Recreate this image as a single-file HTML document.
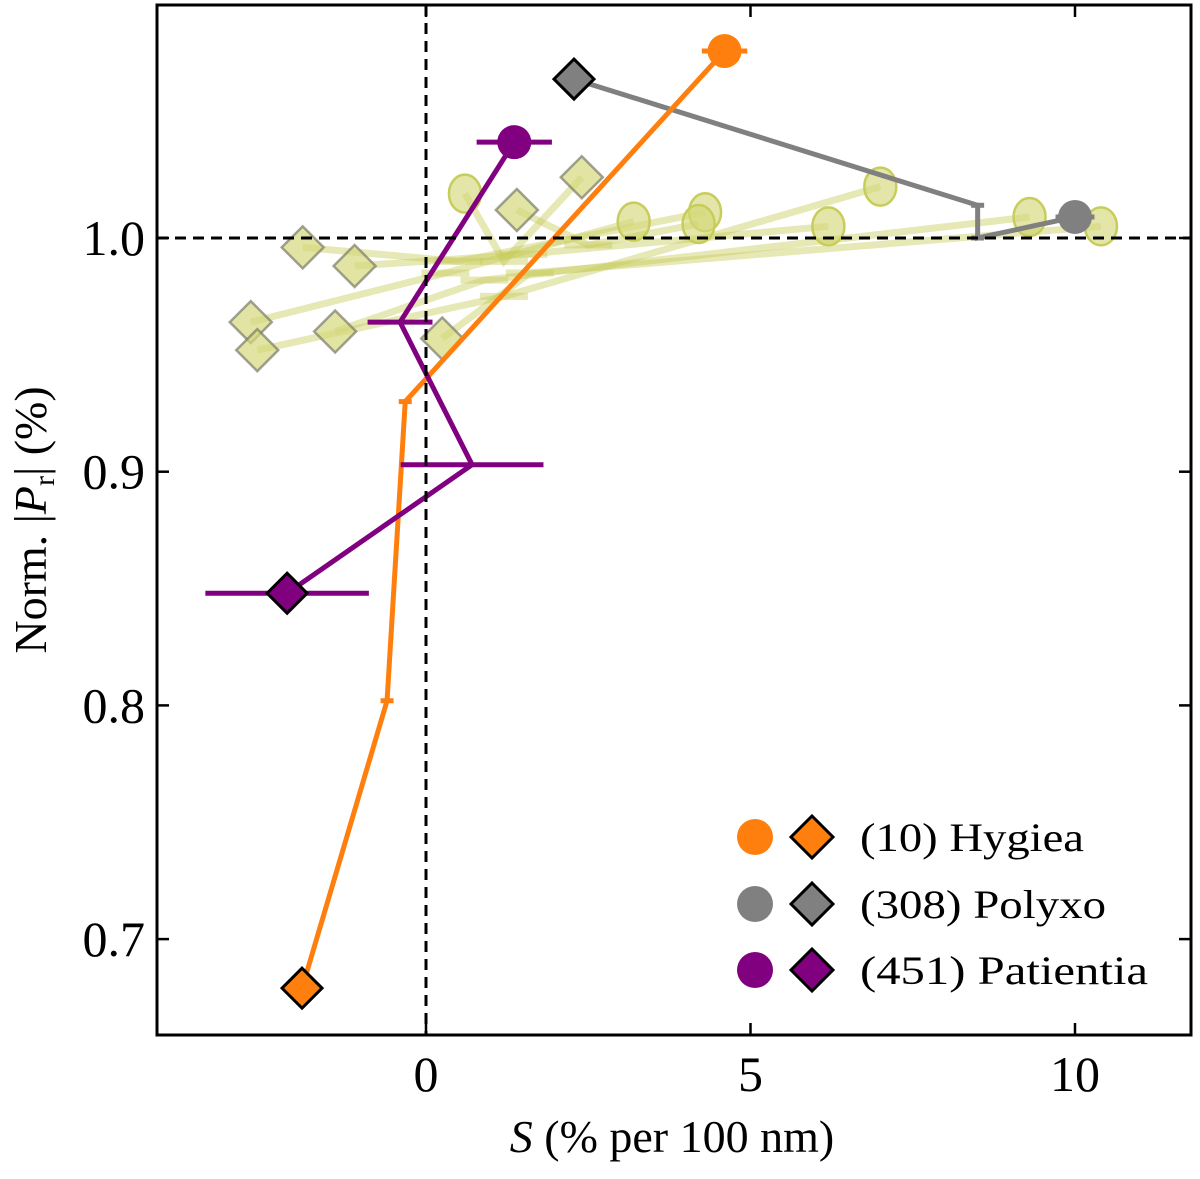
<!DOCTYPE html>
<html><head><meta charset="utf-8"><style>
html,body{margin:0;padding:0;background:#fff;}
svg text{font-family:"Liberation Serif",serif;fill:#000;}
</style></head><body>
<svg id="chart" width="1200" height="1174" xmlns="http://www.w3.org/2000/svg">
<g id="bg"></g><g id="main"></g><g id="axes"></g><g id="legend"></g>
</svg>
<script>
// Background (olive) series: each [diamond, middle, circle]
const bgX = [[-1.9,0.5,4.3],[-1.1,1.5,6.2],[-2.7,0.3,3.2],[-2.6,1.2,7.0],[-1.4,0.9,9.3],[0.25,1.6,10.4],[1.4,2.5,4.2],[2.4,1.2,0.6]];
const bgY = [[0.996,0.990,1.011],[0.988,0.993,1.005],[0.964,0.985,1.007],[0.952,0.975,1.022],[0.960,0.982,1.009],[0.957,0.985,1.005],[1.012,0.997,1.006],[1.026,0.990,1.019]];
// Main series (first point = circle, last point = diamond)
const hygX = [4.6,-0.32,-0.6,-1.91], hygY=[1.080,0.930,0.802,0.679], hygErr=[0.35,0.1,0.1,0];
const polX = [10.0,8.5,8.5,2.28], polY=[1.009,1.0,1.014,1.068], polErr=[0.3,0.1,0.1,0];
const patX = [1.36,-0.4,0.71,-2.14], patY=[1.041,0.964,0.903,0.848], patErr=[0.58,0.5,1.1,1.26];
const xTicks=[0,5,10], yTicks=[0.7,0.8,0.9,1.0];
const xTickLabels=["0","5","10"], yTickLabels=["0.7","0.8","0.9","1.0"];

const L=157,R=1191,T=5,B=1035;
const sx=v=>426+v*64.9, sy=v=>238-(v-1)*2337;
const NS="http://www.w3.org/2000/svg";
function mk(tag,attrs,parent){const e=document.createElementNS(NS,tag);for(const k in attrs)e.setAttribute(k,attrs[k]);parent.appendChild(e);return e;}
const bg=document.getElementById('bg'),main=document.getElementById('main'),axes=document.getElementById('axes'),leg=document.getElementById('legend');
function diamond(x,y,r){return `${x},${y-r} ${x+r},${y} ${x},${y+r} ${x-r},${y}`;}

bgX.forEach((xs,i)=>{
  const pts=xs.map((v,j)=>sx(v)+','+sy(bgY[i][j])).join(' ');
  const l=mk('polyline',{points:pts,fill:'none',stroke:'#c8cc5a','stroke-width':7,'stroke-opacity':0.45},bg);
  
  
  const m=mk('line',{x1:sx(xs[1])-24,x2:sx(xs[1])+24,y1:sy(bgY[i][1]),y2:sy(bgY[i][1]),stroke:'#c8cc5a','stroke-width':7,'stroke-opacity':0.45},bg);
  
  
  const d=mk('polygon',{points:diamond(sx(xs[0]),sy(bgY[i][0]),21),fill:'#d4d87a','fill-opacity':0.7,stroke:'#7a7a6a','stroke-opacity':0.7,'stroke-width':2.5},bg);
  
  
  const c=mk('ellipse',{cx:sx(xs[2]),cy:sy(bgY[i][2]),rx:16,ry:19,fill:'#d4d87a','fill-opacity':0.65,stroke:'#c8cc5a','stroke-width':2.5},bg);
  
  
});

function series(X,Y,E,color,name){
  const pts=X.map((v,j)=>sx(v)+','+sy(Y[j])).join(' ');
  const l=mk('polyline',{points:pts,fill:'none',stroke:color,'stroke-width':5},main);
  
  
  X.forEach((v,j)=>{ if(E[j]>0){
    const e=mk('line',{x1:sx(v-E[j]),x2:sx(v+E[j]),y1:sy(Y[j]),y2:sy(Y[j]),stroke:color,'stroke-width':5},main);
    
    
  }});
  const n=X.length-1;
  const c=mk('circle',{cx:sx(X[0]),cy:sy(Y[0]),r:17,fill:color},main);
  
  
  const d=mk('polygon',{points:diamond(sx(X[n]),sy(Y[n]),20),fill:color,stroke:'#000','stroke-width':3},main);
  
  
}
series(polX,polY,polErr,'#808080','polyxo');
series(hygX,hygY,hygErr,'#ff7f0e','hygiea');
series(patX,patY,patErr,'#800080','patientia');

(function(){
const v=mk('line',{x1:sx(0),x2:sx(0),y1:T,y2:B,stroke:'#000','stroke-width':3,'stroke-dasharray':'11,7'},axes);


const h=mk('line',{x1:L,x2:R,y1:sy(1),y2:sy(1),stroke:'#000','stroke-width':3,'stroke-dasharray':'11,7'},axes);


const f=mk('rect',{x:L,y:T,width:R-L,height:B-T,fill:'none',stroke:'#000','stroke-width':3},axes);


xTicks.forEach((t,i)=>{
  const a=mk('line',{x1:sx(t),x2:sx(t),y1:B,y2:B-12,stroke:'#000','stroke-width':2.5},axes);
  
  
  const b=mk('line',{x1:sx(t),x2:sx(t),y1:T,y2:T+12,stroke:'#000','stroke-width':2.5},axes);
  
  
  const tx=mk('text',{x:sx(t),y:B+56,'font-size':50,'text-anchor':'middle'},axes);
  tx.textContent=xTickLabels[i];
  
  
});
yTicks.forEach((t,i)=>{
  const a=mk('line',{x1:L,x2:L+12,y1:sy(t),y2:sy(t),stroke:'#000','stroke-width':2.5},axes);
  
  
  const b=mk('line',{x1:R,x2:R-12,y1:sy(t),y2:sy(t),stroke:'#000','stroke-width':2.5},axes);
  
  
  const tx=mk('text',{x:L-12,y:sy(t)+17,'font-size':50,'text-anchor':'end'},axes);
  tx.textContent=yTickLabels[i];
  
  
});
const xt=mk('text',{x:672,y:1152,'font-size':46,'text-anchor':'middle'},axes);
xt.innerHTML='<tspan font-style="italic">S</tspan> (% per 100 nm)';


const yt=mk('text',{x:0,y:0,'font-size':46,'text-anchor':'middle',transform:'translate(46,520) rotate(-90)'},axes);
yt.innerHTML='Norm. |<tspan font-style="italic">P</tspan><tspan font-size="30" dy="8">r</tspan><tspan dy="-8">| (%)</tspan>';


const names=['(10) Hygiea','(308) Polyxo','(451) Patientia'],cols=['#ff7f0e','#808080','#800080'],ys=[837,904,970];
names.forEach((n,i)=>{
  const g=mk('g',{},leg);
  
  
  mk('circle',{cx:755,cy:ys[i],r:18,fill:cols[i]},g);
  mk('polygon',{points:diamond(812,ys[i],21),fill:cols[i],stroke:'#000','stroke-width':3},g);
  const t=mk('text',{x:860,y:ys[i]+14,'font-size':40,textLength:[224,246,288][i],lengthAdjust:'spacingAndGlyphs'},g);
  t.textContent=n;
});
})();
</script>
</body></html>
